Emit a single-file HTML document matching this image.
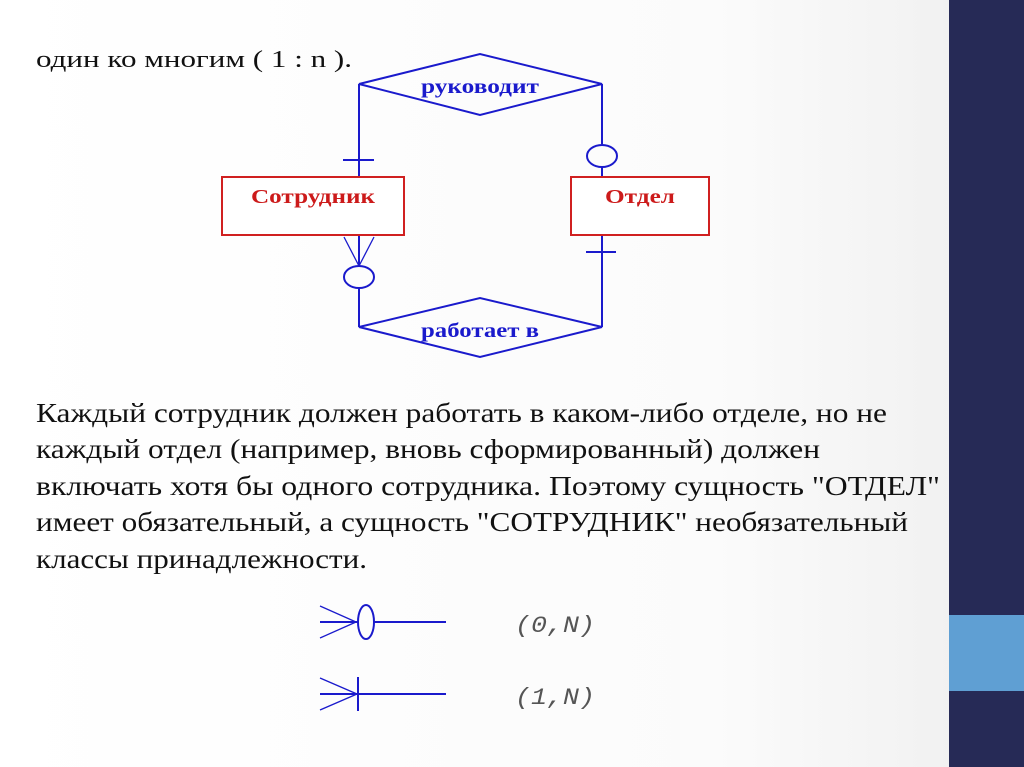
<!DOCTYPE html>
<html><head><meta charset="utf-8"><style>
html,body{margin:0;padding:0;}
body{width:1024px;height:767px;overflow:hidden;background:linear-gradient(90deg,#ffffff 0%,#fbfbfb 70%,#eeeeee 100%);}
.t{font-family:"Liberation Serif","Times New Roman",serif;font-size:27px;fill:#111;}
.d{font-family:"Liberation Serif",serif;font-weight:bold;font-size:20px;}
.m{font-family:"Liberation Mono",monospace;font-style:italic;font-size:23px;fill:#555;}
</style></head><body>
<svg width="1024" height="767" viewBox="0 0 1024 767" xmlns="http://www.w3.org/2000/svg" style="position:absolute;left:0;top:0">
<rect x="949" y="0" width="75" height="767" fill="#262a56"/>
<rect x="949" y="615" width="75" height="76" fill="#5f9fd3"/>
<text class="t" x="36" y="67" style="font-size:24px" textLength="316" lengthAdjust="spacingAndGlyphs">один ко многим ( 1 : n ).</text>
<text class="t" x="36" y="422" textLength="851" lengthAdjust="spacingAndGlyphs">Каждый сотрудник должен работать в каком-либо отделе, но не</text>
<text class="t" x="36" y="458" textLength="784" lengthAdjust="spacingAndGlyphs">каждый отдел (например, вновь сформированный) должен</text>
<text class="t" x="36" y="495" textLength="904" lengthAdjust="spacingAndGlyphs">включать хотя бы одного сотрудника. Поэтому сущность "ОТДЕЛ"</text>
<text class="t" x="36" y="531" textLength="872" lengthAdjust="spacingAndGlyphs">имеет обязательный, а сущность "СОТРУДНИК" необязательный</text>
<text class="t" x="36" y="568" textLength="331" lengthAdjust="spacingAndGlyphs">классы принадлежности.</text>
<g stroke="#1a1acc" stroke-width="2" fill="none">
<polygon points="359,84 480,54 602,84 480,115"/>
<polygon points="359,327 480,298 602,327 480,357"/>
<line x1="359" y1="84" x2="359" y2="177"/>
<line x1="602" y1="84" x2="602" y2="144"/>
<ellipse cx="602" cy="156" rx="15" ry="11"/>
<line x1="602" y1="167" x2="602" y2="177"/>
<line x1="343" y1="160" x2="374" y2="160"/>
<line x1="602" y1="235" x2="602" y2="327"/>
<line x1="586" y1="252" x2="616" y2="252"/>
<line x1="359" y1="235" x2="359" y2="266"/>
<line x1="344" y1="237" x2="359" y2="266" stroke-width="1.3"/>
<line x1="374" y1="237" x2="359" y2="266" stroke-width="1.3"/>
<ellipse cx="359" cy="277" rx="15" ry="11"/>
<line x1="359" y1="288" x2="359" y2="327"/>
<line x1="320" y1="622" x2="358" y2="622"/>
<line x1="320" y1="606" x2="356" y2="622" stroke-width="1.3"/>
<line x1="320" y1="638" x2="356" y2="622" stroke-width="1.3"/>
<ellipse cx="366" cy="622" rx="8" ry="17"/>
<line x1="374" y1="622" x2="446" y2="622"/>
<line x1="320" y1="694" x2="446" y2="694"/>
<line x1="320" y1="678" x2="357" y2="694" stroke-width="1.3"/>
<line x1="320" y1="710" x2="357" y2="694" stroke-width="1.3"/>
<line x1="358" y1="677" x2="358" y2="711"/>
</g>
<rect x="222" y="177" width="182" height="58" fill="#fff" stroke="#d02020" stroke-width="2"/>
<rect x="571" y="177" width="138" height="58" fill="#fff" stroke="#d02020" stroke-width="2"/>
<g text-anchor="middle">
<text class="d" x="313" y="203" fill="#cc1a1a" textLength="124" lengthAdjust="spacingAndGlyphs">Сотрудник</text>
<text class="d" x="640" y="203" fill="#cc1a1a" textLength="70" lengthAdjust="spacingAndGlyphs">Отдел</text>
<text class="d" x="480" y="93" fill="#1a1acc" textLength="118" lengthAdjust="spacingAndGlyphs">руководит</text>
<text class="d" x="480" y="337" fill="#1a1acc" textLength="118" lengthAdjust="spacingAndGlyphs">работает в</text>
</g>
<text class="m" x="515" y="632" textLength="80" lengthAdjust="spacingAndGlyphs">(0,N)</text>
<text class="m" x="515" y="704" textLength="80" lengthAdjust="spacingAndGlyphs">(1,N)</text>
</svg>
</body></html>
